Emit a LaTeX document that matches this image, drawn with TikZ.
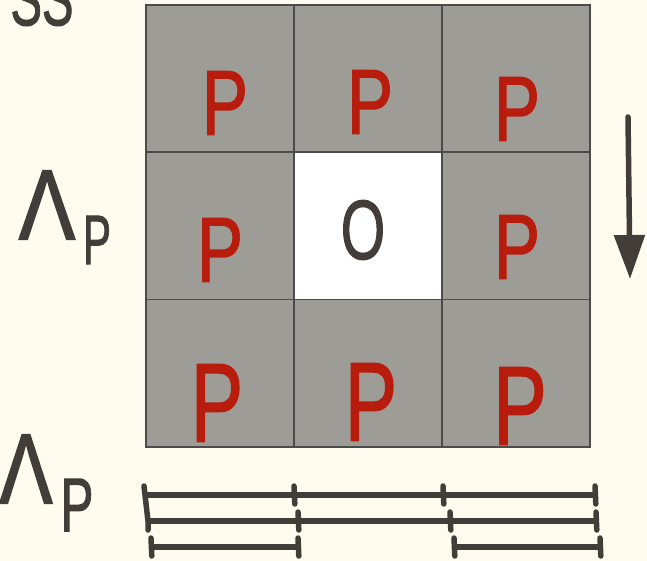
\documentclass[tikz,border=0pt]{standalone}
\usepackage{fontspec}
\setmainfont{Liberation Sans}
\newfontfamily\hand[FakeBold=1.6]{Liberation Sans}
\usetikzlibrary{arrows.meta}
\definecolor{bg}{HTML}{FFFCEF}
\definecolor{cellgray}{HTML}{9D9C97}
\definecolor{pred}{HTML}{B71C0C}
\definecolor{ink}{HTML}{433D3A}
\definecolor{gridc}{HTML}{4B4B4B}
\newcommand{\narrow}[2]{\scalebox{#1}[1]{#2}}
\begin{document}
\begin{tikzpicture}[x=1pt,y=-1pt,
  cell/.style={draw=gridc,line width=1.6pt,minimum width=148pt,minimum height=147.3pt,inner sep=0pt,fill=cellgray},
  pletter/.style={text=pred,inner sep=0pt,font=\hand\fontsize{92}{92}\selectfont},
  bigp/.style={text=pred,inner sep=0pt,font=\hand\fontsize{112}{112}\selectfont},
  inklabel/.style={text=ink,inner sep=0pt},
  bar/.style={draw=ink,line width=6pt},
  tickmark/.style={draw=ink,line width=5.5pt,line cap=round}]
\fill[bg] (0,0) rectangle (647,561);
\useasboundingbox (0,0) rectangle (647,561);
% grid cells
\foreach \i in {0,1,2}{
  \foreach \j in {0,1,2}{
    \node[cell] (c\i\j) at (146+148*\i+74, 5+147.3*\j+73.65) {};
  }
}
\node[cell,fill=white] (c11b) at (c11) {};
% letters
\node[pletter] (p00) at (225,103) {\narrow{0.75}{P}};
\node[pletter] (p10) at (370,102) {\narrow{0.75}{P}};
\node[pletter] (p20) at (517,109) {\narrow{0.75}{P}};
\node[pletter] (p01) at (220,250) {\narrow{0.75}{P}};
\node[inklabel,font=\hand\fontsize{84}{84}\selectfont] (o11) at (363,230) {\narrow{0.68}{O}};
\node[pletter] (p21) at (517,247) {\narrow{0.75}{P}};
\node[bigp] (p02) at (217,403) {\narrow{0.7}{P}};
\node[bigp] (p12) at (371,402) {\narrow{0.7}{P}};
\node[bigp] (p22) at (520,406) {\narrow{0.72}{P}};
% labels
\node[inklabel,font=\hand\fontsize{76}{76}\selectfont] (ss) at (42,-1) {\narrow{0.62}{SS}};
\node[inklabel,font=\hand\fontsize{100}{100}\selectfont] (lam1) at (47,205) {\narrow{0.85}{Λ}};
\node[inklabel,font=\hand\fontsize{70}{70}\selectfont] (lam1p) at (97,240) {\narrow{0.6}{P}};
\node[inklabel,font=\hand\fontsize{100}{100}\selectfont] (lam2) at (26,469) {\narrow{0.8}{Λ}};
\node[inklabel,font=\hand\fontsize{76}{76}\selectfont] (lam2p) at (77,505) {\narrow{0.65}{P}};
% arrow
\coordinate (arrS) at (628,117);
\coordinate (arrE) at (630,279);
\draw[draw=ink,fill=ink,line width=5.5pt,line cap=round,-{Triangle[width=30pt,length=44pt]}] (arrS) -- (arrE);
% bars
\coordinate (a1) at (144,495); \coordinate (a2) at (294,495); \coordinate (a3) at (443,495); \coordinate (a4) at (595,495);
\coordinate (b1) at (148,521); \coordinate (b2) at (298,521); \coordinate (b3) at (450,521); \coordinate (b4) at (596,521);
\coordinate (d1) at (151,547); \coordinate (d2) at (298,547);
\coordinate (e1) at (454,547); \coordinate (e2) at (600,547);
\draw[bar] (a1) -- (a4);
\draw[bar] (b1) -- (b4);
\draw[bar] (d1) -- (d2);
\draw[bar] (e1) -- (e2);
\draw[tickmark] (a1) ++(0,-9) -- (b1) -- ++(0,9);
\foreach \p in {a2,a3,a4,b2,b3,b4,d1,d2,e1,e2}{
  \draw[tickmark] (\p) ++(0,-9) -- ++(0.8,18);
}
\end{tikzpicture}
\end{document}
